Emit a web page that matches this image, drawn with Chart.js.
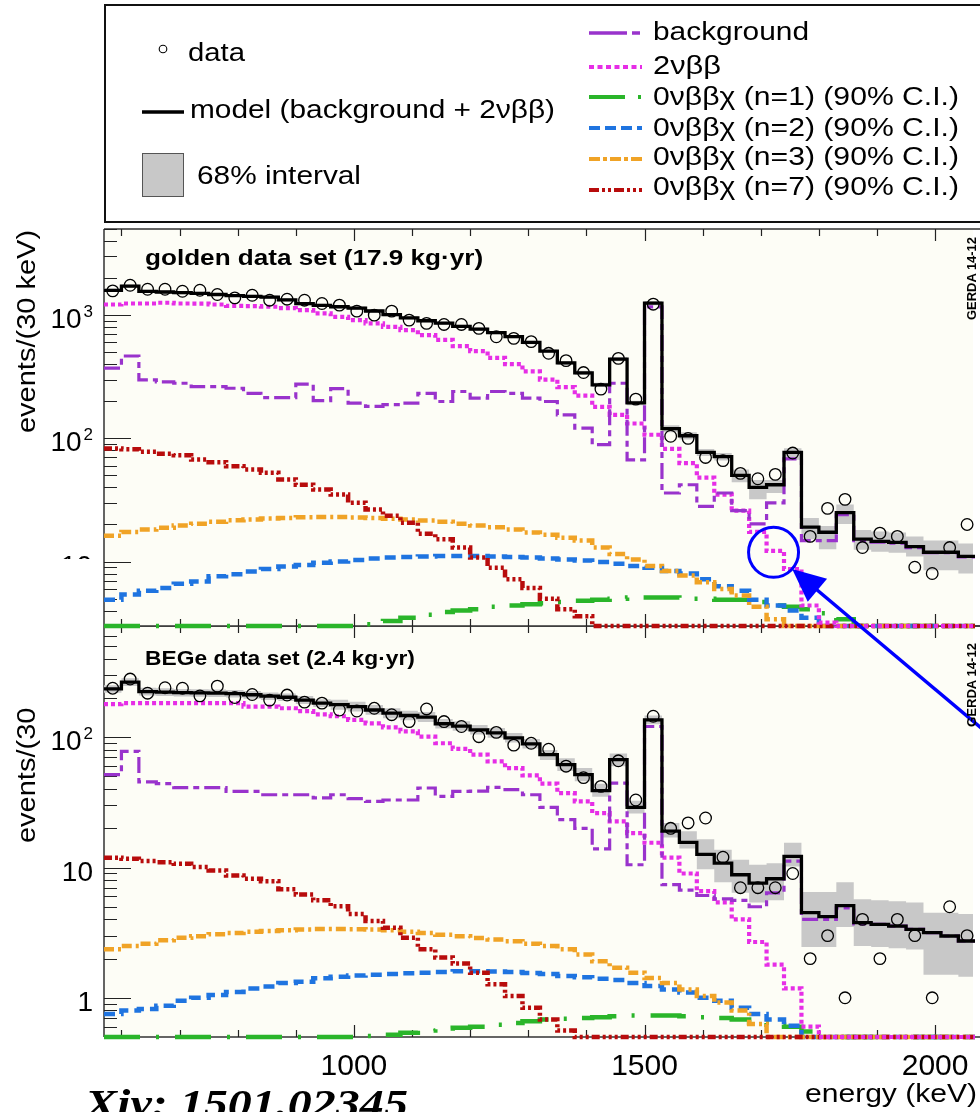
<!DOCTYPE html>
<html>
<head>
<meta charset="utf-8">
<script src="https://cdn.jsdelivr.net/npm/chart.js@4.4.1/dist/chart.umd.min.js"></script>
<style>
html,body{margin:0;padding:0;background:#fff;}
#wrap{position:relative;width:980px;height:1112px;overflow:hidden;font-family:"Liberation Sans",Arial,Helvetica,sans-serif;color:#000;}
canvas{position:absolute;left:0;top:0;}
.t{position:absolute;white-space:nowrap;line-height:1;transform-origin:0 0;}
.clip{position:absolute;overflow:hidden;}
</style>
</head>
<body>
<div id="wrap">
  <canvas id="cBot" width="980" height="1112"></canvas>
  <canvas id="cTop" width="980" height="1112"></canvas>

  <!-- legend box -->
  <div style="position:absolute;left:104px;top:4px;width:900px;height:219px;border:2px solid #111;box-sizing:border-box;"></div>
  <svg width="980" height="230" style="position:absolute;left:0;top:0;">
    <circle cx="163" cy="49" r="3.8" fill="none" stroke="#000" stroke-width="1.1"/>
    <line x1="142" y1="112" x2="184" y2="112" stroke="#000" stroke-width="3.5"/>
    <rect x="142.5" y="153.5" width="41" height="43" fill="#c8c8c8" stroke="#555" stroke-width="1"/>
    <line x1="589" y1="33" x2="642" y2="33" stroke="#9933cc" stroke-width="3.5" stroke-dasharray="38 5 8"/>
    <line x1="589" y1="67" x2="642" y2="67" stroke="#e62ee6" stroke-width="4" stroke-dasharray="5 3.5"/>
    <line x1="589" y1="97" x2="642" y2="97" stroke="#2ab52a" stroke-width="4" stroke-dasharray="36 13 3"/>
    <line x1="589" y1="128" x2="642" y2="128" stroke="#1f74e0" stroke-width="4" stroke-dasharray="11 5"/>
    <line x1="589" y1="159" x2="642" y2="159" stroke="#f0a326" stroke-width="4" stroke-dasharray="11 3 4 3"/>
    <line x1="589" y1="190" x2="642" y2="190" stroke="#b80c0c" stroke-width="4" stroke-dasharray="10 3 3 3 3 3"/>
  </svg>
  <div class="t" style="left:188px;top:40px;font-size:25px;" data-w="57">data</div>
  <div class="t" style="left:190px;top:97px;font-size:25px;" data-w="365">model (background + 2νββ)</div>
  <div class="t" style="left:197px;top:163px;font-size:25px;" data-w="164">68% interval</div>
  <div class="t" style="left:653px;top:19px;font-size:25px;" data-w="156">background</div>
  <div class="t" style="left:653px;top:53px;font-size:25px;" data-w="68">2νββ</div>
  <div class="t" style="left:653px;top:84px;font-size:25px;" data-w="306">0νββχ (n=1) (90% C.I.)</div>
  <div class="t" style="left:653px;top:115px;font-size:25px;" data-w="306">0νββχ (n=2) (90% C.I.)</div>
  <div class="t" style="left:653px;top:144px;font-size:25px;" data-w="306">0νββχ (n=3) (90% C.I.)</div>
  <div class="t" style="left:653px;top:174px;font-size:25px;" data-w="306">0νββχ (n=7) (90% C.I.)</div>

  <!-- panel titles -->
  <div class="t" style="left:145px;top:247px;font-size:22px;font-weight:bold;" data-w="338">golden data set (17.9 kg·yr)</div>
  <div class="t" style="left:145px;top:648px;font-size:20px;font-weight:bold;" data-w="270">BEGe data set (2.4 kg·yr)</div>

  <!-- GERDA marks -->
  <div class="t" style="left:965px;top:320px;font-size:13px;font-weight:bold;" data-w="83" data-rot="1">GERDA 14-12</div>
  <div class="t" style="left:965px;top:727px;font-size:13px;font-weight:bold;" data-w="84" data-rot="1">GERDA 14-12</div>

  <!-- y titles -->
  <div class="t" style="left:14px;top:433px;font-size:25.5px;" data-w="203" data-rot="1">events/(30 keV)</div>
  <div class="clip" style="left:0;top:703px;width:100px;height:160px;">
    <div class="t" style="left:14px;top:140px;font-size:25.5px;" data-w="203" data-rot="1">events/(30 keV)</div>
  </div>

  <!-- x title and footer -->
  <div class="t" style="left:805px;top:1080px;font-size:26px;" data-w="172">energy (keV)</div>
  <div class="t" style="left:85px;top:1084px;font-size:40px;font-weight:bold;font-style:italic;font-family:'Liberation Serif','DejaVu Serif',serif;" data-w="323">Xiv: 1501.02345</div>
</div>

<script>
// ---------------- data ----------------
const binEdges = [570,600,630,660,690,720,750,780,810,840,870,900,930,960,990,1020,1050,1080,1110,1140,1170,1200,1230,1260,1290,1320,1350,1380,1410,1440,1470,1500,1530,1560,1590,1620,1650,1680,1710,1740,1770,1800,1830,1860,1890,1920,1950,1980,2010,2040,2070];

// golden data set (top panel)
const goldData = [1573,1748,1622,1622,1562,1592,1470,1380,1450,1322,1347,1322,1243,1205,1077,1000,1077,911,857,840,840,781,667,648,609,490,427,342,251,446,208,1227,104,100,70,66,52,47,51,76,16,27,32,13,17,16,9,8,13,20];
const goldModel = [1590,1720,1560,1540,1520,1500,1470,1440,1420,1400,1330,1240,1200,1170,1140,1080,1010,950,900,860,810,770,720,670,600,510,409,340,272,440,194,1250,120,105,77,71,50,40,42,77,19,17.3,25,15.2,14.6,14.3,13.2,11.9,11.9,11];
const goldBandLow = [1545,1670,1515,1495,1475,1455,1430,1400,1380,1360,1290,1205,1165,1135,1105,1050,980,920,875,835,785,745,700,650,580,495,393,327,261,423,186,1200,112,98,72,66,44,32,36,67,15.2,12.6,20.2,12.5,12,11.8,11,8.5,8.5,8];
const goldBandHigh = [1640,1770,1605,1585,1565,1545,1515,1485,1465,1440,1370,1280,1235,1205,1175,1115,1040,980,925,885,835,795,740,690,620,525,425,354,283,458,202,1300,128,112,82,76,56,46,46,83,22.6,19.4,29,18,17.5,17.2,16,14.8,14.8,14];
const goldBkg = [371,466,298,287,280,263,263,255,232,214,214,275,202,253,193,182,188,193,232,199,240,212,240,232,212,199,155,121,89,280,67,1168,36,42,28,36,25.9,20.2,30,68.2,14.8,14.8,24,14.8,14.4,14.1,13,11.8,11.8,10.9];
const gold2nbb = [1220,1243,1243,1260,1243,1240,1220,1190,1182,1170,1140,1098,1032,969,911,857,804,756,689,630,560,510,450,400,350,300,260,222,180,155,132,107,82,63,48,35,25.9,17.4,12.2,8.7,4.4,3.2,3,3,3,3,3,3,3,3];
const goldN1 = [3,3,3,3,3,3,3,3,3,3,3,3,3,3,3,3.1,3.3,3.5,3.7,3.9,4,4.1,4.3,4.4,4.5,4.6,4.7,4.8,4.9,5,5.1,5.1,5.1,5,5,4.9,4.9,4.7,4.4,4.3,4.1,3.8,3.4,3,3,3,3,3,3,3];
const goldN2 = [4.9,5.4,5.8,6.1,6.6,6.9,7.6,7.9,8.3,8.7,9.1,9.4,9.8,10,10.3,10.6,10.8,10.9,11,11.1,11.1,11.1,11,10.9,10.8,10.6,10.4,10.2,9.9,9.6,9.2,8.9,8.4,8,7.2,6.3,5.8,4.9,4.4,4,3.5,3,3,3,3,3,3,3,3,3];
const goldN3 = [16.2,17.4,18.2,18.8,19.6,20.3,21,21.6,22,22.4,22.6,22.9,23,23,22.8,22.6,22.3,22,21.5,21,20.3,19.6,19,18.2,17.2,16.5,15.6,14.8,13,11.5,10.4,9.2,8.4,7.7,6.8,6,5.3,4.3,3.4,3,3,3,3,3,3,3,3,3,3,3];
const goldN7 = [82.6,81.6,78,75,72.9,67.4,64,59.5,56,52.5,46.4,42,38.5,35,30,26.4,23.5,20.7,16.8,15.2,13,10.8,8.9,7.2,6.1,5,4.1,3.6,3,3,3,3,3,3,3,3,3,3,3,3,3,3,3,3,3,3,3,3,3,3];

// BEGe data set (bottom panel)
const begeData = [238,280,218,240,238,208,247,202,213,193,211,186,183,162,159,167,149,132,165,132,121,101,109,87,90,81,60,49,42,66,33,145,20,22,24,12,7,7,7,9,2,3,1,4,2,4,3,1,5,3];
const begeModel = [235,265,224,222,220,219,218,216,212,207,203,193,183,178,172,162,153,147,143,127,122,114,108,99,89,73.5,61.6,51.6,39,67.3,29,136,19,15.6,12.6,10.8,8.8,7.6,8.2,12.2,4.5,4.2,5.1,3.77,3.66,3.55,3.35,3.16,2.98,2.73];
const begeBandLow = [220,248,209,207,206,205,204,202,198,193,190,180,171,163,158,149,140,135,131,117,112,105,99,91,82,67,55,46,35,60,26,126,17,14,9.7,7.7,6.4,5.4,5.6,10.2,2.45,2.45,3.5,2.5,2.45,2.4,2.35,1.5,1.5,1.45];
const begeBandHigh = [251,284,240,238,235,234,233,231,227,221,217,207,196,194,187,177,167,160,156,138,133,124,118,108,97,80,69,58,44,75,32.5,147,22,19,16.5,13.7,11.5,10.5,10.8,15.5,6.5,6.5,7.7,5.7,5.6,5.5,5.4,4.5,4.5,4.4];
const begeBkg = [51.6,78,45.4,44,41,41,41,38.4,38.4,36.2,36.2,36.2,34.2,36.2,33.8,32.2,33,33,40.8,35.2,38.4,38.6,41.2,39.6,36.2,29,23.3,20,13.9,44.5,10.5,121,7.4,6.7,6.1,5.75,5.6,5,6.4,11.2,4,4,4.9,3.7,3.66,3.55,3.35,3.16,2.98,2.73];
const bege2nbb = [180,183,183,183,183,183,183,183,172,172,167,159,150,145,136,128,119,111,101,90,81.5,73.5,65.2,58,51,44,37.3,32.2,26.2,22.6,18.4,15.5,11.9,9,6.6,5.4,4,2.68,1.8,1.18,0.6,0.5,0.5,0.5,0.5,0.5,0.5,0.5,0.5,0.5];
const begeN1 = [0.5,0.5,0.5,0.5,0.5,0.5,0.5,0.5,0.5,0.5,0.5,0.5,0.5,0.5,0.5,0.51,0.52,0.54,0.56,0.58,0.59,0.6,0.62,0.64,0.66,0.68,0.69,0.7,0.71,0.72,0.73,0.73,0.73,0.72,0.71,0.7,0.68,0.64,0.62,0.6,0.55,0.5,0.5,0.5,0.5,0.5,0.5,0.5,0.5,0.5];
const begeN2 = [0.75,0.8,0.82,0.87,0.95,1,1.05,1.11,1.18,1.22,1.3,1.33,1.41,1.45,1.48,1.5,1.52,1.54,1.56,1.58,1.6,1.6,1.59,1.58,1.55,1.52,1.47,1.44,1.4,1.37,1.3,1.23,1.16,1.1,1,0.95,0.84,0.75,0.68,0.61,0.5,0.5,0.5,0.5,0.5,0.5,0.5,0.5,0.5,0.5];
const begeN3 = [2.36,2.5,2.6,2.76,2.89,2.97,3.07,3.15,3.22,3.26,3.3,3.35,3.37,3.37,3.36,3.34,3.3,3.22,3.14,3.05,2.97,2.88,2.8,2.72,2.6,2.5,2.36,2.15,1.91,1.7,1.56,1.42,1.3,1.16,1.03,0.92,0.8,0.63,0.5,0.5,0.5,0.5,0.5,0.5,0.5,0.5,0.5,0.5,0.5,0.5];
const begeN7 = [11.9,11.7,11.2,11,10.7,10.1,9.5,8.7,8.2,7.85,6.8,6.2,5.6,5.05,4.4,3.88,3.45,2.89,2.36,2.04,1.83,1.56,1.27,1.03,0.84,0.68,0.56,0.5,0.5,0.5,0.5,0.5,0.5,0.5,0.5,0.5,0.5,0.5,0.5,0.5,0.5,0.5,0.5,0.5,0.5,0.5,0.5,0.5,0.5,0.5];

// axes / ticks
const xRange = [570, 2065];
const xMinorTickValues = [600,700,800,900,1000,1100,1200,1300,1400,1500,1600,1700,1800,1900,2000];
const xMajorTickValues = [1000,1500,2000];
const xTickLabels = ['1000','1500','2000'];
const goldYRange = [3, 5000];
const goldYTickValues = [1000, 100];
const goldYTickBase = ['10','10'];
const goldYTickSup = ['3','2'];
const begeYRange = [0.5, 715];
const begeYTickValues = [100, 10, 1];
const begeYTickBase = ['10','10','1'];
const begeYTickSup = ['2','',''];

// annotation (blue circle + arrow) in data coordinates of the top panel
const circleAt = {x: 1722, y: 11.9};
const arrowTipAt = {x: 1754, y: 8.7};

// ---------------- helpers ----------------
const COL = {bkg:'#9933cc', nbb:'#e62ee6', n1:'#2ab52a', n2:'#1f74e0', n3:'#f0a326', n7:'#b80c0c'};
const EDGE_CLIP = {left: 0, top: 0, right: 2, bottom: 3};
function hist(vals){
  const pts = vals.map((v,i)=>({x: binEdges[i], y: v}));
  pts.push({x: binEdges[vals.length], y: vals[vals.length-1]});
  return pts;
}
function centers(vals){ return vals.map((v,i)=>({x:(binEdges[i]+binEdges[i+1])/2, y:v})); }
function step(label, vals, color, width, dash, order){
  return {label, data: hist(vals), borderColor: color, borderWidth: width, borderDash: dash,
    stepped: 'before', pointRadius: 0, fill: false, order, borderCapStyle:'butt', borderJoinStyle:'miter',
    clip: EDGE_CLIP};
}
function datasets(s){
  return [
    {label:'lo', data: hist(s.lo), borderWidth:0, borderColor:'rgba(0,0,0,0)', stepped:'before', pointRadius:0, fill:false, order:20},
    {label:'hi', data: hist(s.hi), borderWidth:0, borderColor:'rgba(0,0,0,0)', backgroundColor:'#c8c8c8', stepped:'before', pointRadius:0, fill:'-1', order:19},
    step('n1', s.n1, COL.n1, 4.5, [36,16,3,16], 12),
    step('n2', s.n2, COL.n2, 4.5, [11,6], 11),
    step('n3', s.n3, COL.n3, 4.5, [10,4,3,4], 10),
    step('n7', s.n7, COL.n7, 4.5, [8,3,3,3,3,3,3,3], 9),
    step('bkg', s.bkg, COL.bkg, 3.2, [16,5,6,5], 7),
    step('2nbb', s.nbb, COL.nbb, 4.2, [4,3], 8),
    step('model', s.model, '#000', 3.3, [], 2),
    {label:'data', data: centers(s.data), showLine:false, pointRadius:5.8, pointBorderWidth:1.3,
      pointBorderColor:'#000', pointBackgroundColor:'rgba(0,0,0,0)', order:1, clip: 8}
  ];
}

function axesPlugin(cfg){
  return {
    id: 'axes_' + cfg.id,
    beforeDraw(chart){
      const {ctx, chartArea:a} = chart;
      ctx.save(); ctx.fillStyle = '#fdfdf6';
      ctx.fillRect(a.left, a.top, a.right - a.left, a.bottom - a.top);
      ctx.restore();
    },
    beforeDatasetsDraw(chart){
      // frame and tick marks, underneath the histogram lines
      const {ctx, chartArea:a, scales:{x, y}} = chart;
      ctx.save();
      ctx.strokeStyle = '#333'; ctx.lineWidth = 1.5;
      ctx.beginPath();
      ctx.moveTo(a.left, a.top); ctx.lineTo(985, a.top);
      ctx.moveTo(a.left, a.bottom); ctx.lineTo(985, a.bottom);
      ctx.moveTo(a.left, a.top); ctx.lineTo(a.left, a.bottom);
      ctx.stroke();
      ctx.lineWidth = 1.2; ctx.strokeStyle = '#222';
      ctx.beginPath();
      xMinorTickValues.forEach(e => {
        const px = Math.round(x.getPixelForValue(e)) + 0.5;
        const L = xMajorTickValues.includes(e) ? 12 : 7;
        ctx.moveTo(px, a.top); ctx.lineTo(px, a.top + L);
        ctx.moveTo(px, a.bottom); ctx.lineTo(px, a.bottom - L);
      });
      for (let d = -1; d <= 4; d++) for (let m = 1; m <= 9; m++){
        const v = m * Math.pow(10, d);
        if (v < cfg.yRange[0] * 0.999 || v > cfg.yRange[1]) continue;
        const py = Math.round(y.getPixelForValue(v)) + 0.5;
        const L = m === 1 ? 27 : 13;
        ctx.moveTo(a.left, py); ctx.lineTo(a.left + L, py);
      }
      ctx.stroke();
      ctx.restore();
    },
    afterDraw(chart){
      const {ctx, scales:{x, y}} = chart;
      ctx.save();
      // y tick labels
      ctx.fillStyle = '#000';
      cfg.yTickValues.forEach((v, i) => {
        const py = y.getPixelForValue(v);
        const base = cfg.yTickBase[i], sup = cfg.yTickSup[i];
        ctx.textBaseline = 'alphabetic'; ctx.textAlign = 'right';
        let right = 93;
        if (sup){
          ctx.font = '17px "Liberation Sans", Arial, sans-serif';
          ctx.fillText(sup, right, py + 2);
          right -= ctx.measureText(sup).width + 2;
        }
        ctx.font = '28px "Liberation Sans", Arial, sans-serif';
        ctx.fillText(base, right, py + 13);
      });
      if (cfg.partialTen){
        const py = y.getPixelForValue(cfg.partialTen);
        ctx.save(); ctx.beginPath(); ctx.rect(0, 540, 100, 19); ctx.clip();
        ctx.font = '28px "Liberation Sans", Arial, sans-serif'; ctx.textAlign = 'right';
        ctx.fillText('10', 92, py + 13);
        ctx.restore();
      }
      if (cfg.xLabels){
        ctx.font = '30px "Liberation Sans", Arial, sans-serif'; ctx.textAlign = 'center';
        xMajorTickValues.forEach((e, i) => ctx.fillText(xTickLabels[i], x.getPixelForValue(e), 1075));
      }
      if (cfg.annot){
        const cx = x.getPixelForValue(circleAt.x), cy = y.getPixelForValue(circleAt.y);
        ctx.strokeStyle = '#0000ff'; ctx.lineWidth = 3;
        ctx.beginPath(); ctx.arc(cx, cy, 25, 0, Math.PI * 2); ctx.stroke();
        const tx = x.getPixelForValue(arrowTipAt.x), ty = y.getPixelForValue(arrowTipAt.y);
        const dx = 182, dy = 153, n = Math.hypot(dx, dy), ux = dx / n, uy = dy / n;
        const hl = 33, hw = 15;
        ctx.lineWidth = 3.5;
        ctx.beginPath(); ctx.moveTo(tx + ux * hl * 0.8, ty + uy * hl * 0.8); ctx.lineTo(tx + ux * 400, ty + uy * 400); ctx.stroke();
        ctx.fillStyle = '#0000ff';
        ctx.beginPath();
        ctx.moveTo(tx, ty);
        ctx.lineTo(tx + ux * hl - uy * hw, ty + uy * hl + ux * hw);
        ctx.lineTo(tx + ux * hl + uy * hw, ty + uy * hl - ux * hw);
        ctx.closePath(); ctx.fill();
      }
      ctx.restore();
    }
  };
}

function makeChart(canvasId, series, yRange, padding, cfg){
  return new Chart(document.getElementById(canvasId), {
    type: 'line',
    data: { datasets: datasets(series) },
    options: {
      responsive: false, animation: false, events: [],
      layout: { padding },
      plugins: { legend: {display:false}, tooltip: {enabled:false} },
      scales: {
        x: { type:'linear', min:xRange[0], max:xRange[1], display:false },
        y: { type:'logarithmic', min:yRange[0], max:yRange[1], display:false }
      }
    },
    plugins: [axesPlugin(cfg)]
  });
}

makeChart('cBot', {data:begeData, model:begeModel, lo:begeBandLow, hi:begeBandHigh, bkg:begeBkg, nbb:bege2nbb,
  n1:begeN1, n2:begeN2, n3:begeN3, n7:begeN7}, begeYRange, {left:104, top:626, right:0, bottom:75},
  {id:'bot', yRange:begeYRange, yTickValues:begeYTickValues, yTickBase:begeYTickBase, yTickSup:begeYTickSup, xLabels:true});

makeChart('cTop', {data:goldData, model:goldModel, lo:goldBandLow, hi:goldBandHigh, bkg:goldBkg, nbb:gold2nbb,
  n1:goldN1, n2:goldN2, n3:goldN3, n7:goldN7}, goldYRange, {left:104, top:229, right:0, bottom:486},
  {id:'top', yRange:goldYRange, yTickValues:goldYTickValues, yTickBase:goldYTickBase, yTickSup:goldYTickSup, partialTen:10, annot:true});

// fit stretched text labels to their measured widths
document.querySelectorAll('[data-w]').forEach(el => {
  const w = el.getBoundingClientRect().width;
  const s = (+el.dataset.w) / w;
  el.style.transform = (el.dataset.rot ? 'rotate(-90deg) ' : '') + 'scaleX(' + s.toFixed(3) + ')';
});
</script>
</body>
</html>
